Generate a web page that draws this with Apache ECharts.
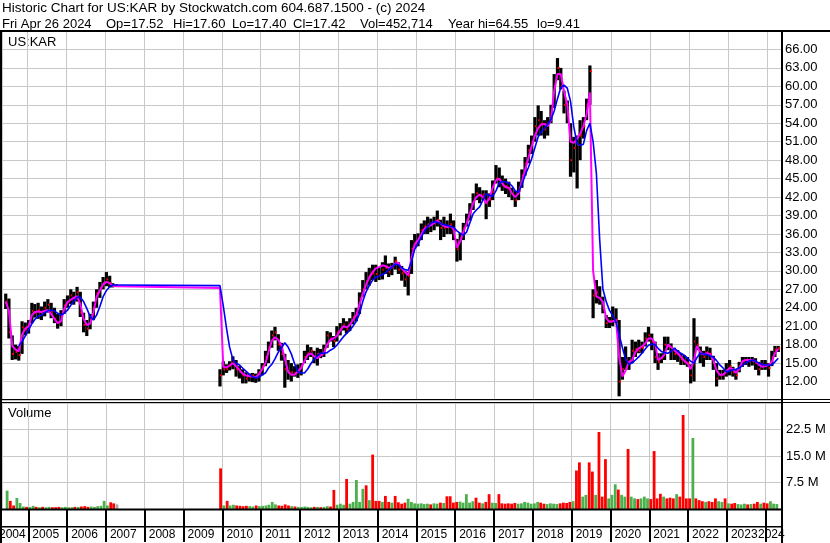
<!DOCTYPE html>
<html>
<head>
<meta charset="utf-8">
<title>US:KAR historic chart</title>
<script src="https://cdn.jsdelivr.net/npm/echarts@6/dist/echarts.min.js"></script>
<style>
  html, body { margin: 0; padding: 0; background: #fff; }
  #chart { width: 830px; height: 543px; }
</style>
</head>
<body>
<div id="chart"></div>
<script>
// monthly bars: close / high / low, the two moving averages, volume (millions)
// first run (ADESA) Jun 2004 - Apr 2007
const startA = [2004, 6];
const closeA = [
  25.0, 20.0, 16.5, 16.8, 16.3, 20.8, 20.5,
  21.0, 23.5, 23.2, 23.6, 23.0, 24.0, 24.5, 23.4, 22.2, 21.6, 22.6, 24.4,
  25.0, 26.0, 25.5, 26.5, 23.2, 21.2, 20.6, 22.0, 24.0, 26.4, 27.2, 28.0,
  28.6, 28.0, 27.6, 27.6
];
const highA = [
  26.3, 25.5, 19.5, 18.0, 17.8, 21.8, 21.6,
  22.0, 24.8, 24.6, 24.8, 24.2, 25.0, 25.4, 24.8, 24.0, 23.0, 23.6, 25.4,
  26.0, 27.0, 26.6, 27.4, 26.6, 23.2, 22.0, 23.0, 25.0, 27.0, 28.2, 29.0,
  29.8, 29.2, 28.0, 27.8
];
const lowA = [
  23.8, 19.0, 15.5, 15.6, 15.4, 16.5, 19.5,
  19.8, 21.5, 22.4, 22.2, 22.0, 22.6, 23.2, 22.3, 21.5, 20.6, 21.0, 23.0,
  24.0, 24.6, 24.5, 25.0, 22.5, 20.0, 19.4, 20.5, 22.0, 24.0, 25.6, 27.0,
  27.5, 27.3, 27.3, 27.4
];
const pinkA = [
  25.0, 23.5, 17.8, 17.2, 16.9, 19.6, 20.6,
  21.0, 22.8, 23.3, 23.4, 23.3, 23.5, 23.6, 23.0, 22.2, 21.5, 21.8, 23.8,
  24.9, 25.3, 25.6, 25.9, 24.6, 22.2, 21.2, 21.4, 23.2, 25.8, 26.8, 27.8,
  28.2, 28.0, 27.6, 27.5
];
const blueA = [
  null, null, null, null, 17.8, 18.5, 19.4,
  20.4, 21.4, 22.1, 22.6, 22.8, 23.2, 23.5, 23.6, 23.5, 23.1, 22.8, 23.1,
  23.6, 24.4, 25.0, 25.7, 25.7, 25.0, 23.9, 22.6, 22.0, 22.8, 24.2, 25.8,
  26.8, 27.4, 27.7, 27.7
];
const volA = [
  5.2, 2.3, 1.0, 3.1, 1.7, 0.7, 0.6,
  0.6, 0.9, 0.6, 0.5, 0.6, 0.5, 0.6, 0.5, 0.5, 0.6, 0.5, 0.6,
  0.5, 0.5, 0.6, 0.6, 0.7, 0.8, 0.6, 0.7, 0.6, 0.8, 0.9, 2.3,
  1.0, 1.9, 1.6, 1.3
];
// g = up (green), r = down (red), n = unchanged (grey)
const dirA = 'grrgggr' + 'ggrgrggrrrgg' + 'ggrgrrrggggg' + 'grrn';

// second run (KAR) Dec 2009 - Apr 2024
const startB = [2009, 12];
const closeB = [
  13.0,
  14.0, 14.0, 14.6, 15.4, 14.0, 13.6, 13.0, 12.5, 12.8, 13.0, 12.7, 13.5,
  14.5, 16.0, 17.6, 19.5, 20.0, 18.0, 16.5, 14.0, 13.5, 13.5, 13.4, 13.6,
  14.6, 16.0, 16.6, 17.0, 16.0, 16.5, 16.5, 17.3, 19.5, 19.0, 18.6, 20.0,
  20.5, 21.3, 20.5, 21.5, 22.5, 23.0, 25.5, 27.0, 28.3, 29.2, 29.6, 29.5,
  29.2, 30.2, 30.5, 29.8, 30.6, 31.6, 30.2, 29.6, 28.6, 29.2, 33.6, 34.6,
  35.2, 36.6, 37.2, 37.6, 37.5, 37.8, 38.3, 37.0, 37.0, 37.1, 37.6, 36.5,
  33.5, 35.2, 37.0, 38.2, 39.6, 41.2, 42.6, 42.2, 42.4, 41.0, 41.6, 42.8,
  45.0, 44.8, 44.0, 43.8, 43.4, 42.5, 41.5, 43.0, 45.5, 47.5, 49.6, 51.0,
  53.5, 54.5, 54.0, 53.0, 54.0, 56.0, 60.0, 63.0, 60.0, 57.0, 55.5, 48.0,
  50.0, 50.5, 52.0, 53.5, 57.0, 62.5, 26.0, 26.5, 25.5, 24.0, 21.5, 21.8,
  22.5, 22.0, 12.0, 14.0, 15.5, 15.0, 17.0, 17.3, 17.0, 17.5, 19.0, 19.5,
  18.5, 16.0, 15.2, 15.8, 18.0, 17.8, 17.0, 16.5, 16.4, 15.6, 15.2, 15.0,
  13.0, 18.5, 18.0, 16.5, 16.0, 16.8, 16.5, 15.0, 12.5, 13.0, 13.2, 13.8,
  14.5, 13.5, 13.0, 14.5, 15.3, 15.5, 15.3, 15.4, 15.0, 14.0, 14.8, 14.7,
  14.2, 16.0, 17.2, 17.42
];
const highB = [
  14.0,
  15.3, 14.8, 15.3, 16.1, 15.5, 14.5, 14.0, 13.5, 13.3, 13.4, 13.3, 14.0,
  15.0, 17.0, 18.5, 20.3, 20.9, 19.7, 18.3, 16.5, 15.5, 15.0, 14.5, 14.8,
  15.0, 17.0, 18.0, 17.6, 17.0, 17.5, 17.3, 18.0, 20.2, 20.0, 19.4, 21.0,
  21.5, 22.3, 21.8, 22.3, 23.3, 24.0, 26.5, 28.5, 29.8, 30.5, 31.0, 31.0,
  30.6, 31.4, 32.5, 31.2, 31.3, 32.3, 31.4, 30.8, 30.0, 29.8, 35.0, 36.0,
  36.1, 37.7, 38.2, 38.8, 38.5, 38.8, 39.8, 38.3, 38.8, 38.2, 39.3, 38.2,
  35.2, 36.2, 37.8, 39.3, 41.0, 42.6, 44.2, 43.6, 43.1, 43.1, 42.6, 44.7,
  47.2, 46.8, 45.5, 45.0, 44.5, 43.5, 43.0, 44.5, 46.5, 48.5, 50.5, 52.0,
  55.0, 56.9, 56.0, 54.5, 55.0, 57.0, 62.0, 64.6, 63.0, 59.3, 57.7, 54.0,
  51.8, 52.0, 54.5, 55.0, 58.0, 63.4, 27.0, 28.5, 27.5, 25.8, 22.8, 22.5,
  24.2, 23.9, 22.0, 16.0, 17.7, 16.0, 18.8, 18.5, 18.8, 18.5, 20.0, 20.9,
  19.8, 18.5, 16.6, 16.6, 19.3, 19.3, 18.2, 17.5, 17.1, 16.6, 16.3, 16.0,
  14.8, 22.3, 19.3, 17.7, 17.0, 17.7, 17.5, 16.2, 15.0, 13.9, 13.9, 15.0,
  15.5, 14.4, 14.0, 15.2, 16.0, 16.0, 16.0, 16.0, 15.8, 15.2, 15.5, 15.5,
  15.0, 17.0, 17.8, 17.8
];
const lowB = [
  11.2,
  13.0, 13.4, 13.8, 14.0, 12.8, 12.5, 11.7, 11.7, 12.0, 11.9, 11.8, 12.0,
  13.0, 14.5, 15.0, 17.5, 18.7, 17.0, 15.4, 11.0, 12.3, 12.0, 12.8, 12.6,
  13.0, 15.0, 15.5, 16.0, 15.0, 14.6, 15.8, 16.0, 17.5, 18.5, 17.6, 18.5,
  19.5, 20.3, 19.8, 20.2, 21.3, 21.8, 23.0, 25.8, 27.0, 27.6, 28.5, 28.2,
  28.5, 28.6, 29.5, 29.0, 29.3, 30.2, 29.5, 28.4, 27.4, 26.0, 29.5, 33.8,
  34.0, 35.0, 36.0, 36.0, 36.3, 36.6, 37.2, 35.0, 35.5, 36.0, 36.0, 35.0,
  31.5, 31.7, 35.0, 37.2, 38.2, 39.9, 41.5, 41.0, 41.5, 38.4, 40.4, 41.5,
  44.2, 43.6, 43.0, 42.5, 42.0, 41.5, 40.4, 41.5, 43.5, 45.5, 47.5, 49.0,
  51.0, 52.0, 52.0, 51.5, 52.0, 54.0, 56.5, 61.0, 59.5, 55.6, 54.0, 45.3,
  46.0, 43.4, 48.0, 51.5, 54.5, 57.0, 22.3, 24.7, 24.5, 23.1, 20.7, 20.7,
  21.0, 21.5, 9.6, 12.3, 13.9, 13.9, 15.0, 16.0, 16.6, 16.6, 17.7, 18.5,
  17.1, 15.0, 13.9, 15.0, 15.5, 17.1, 15.5, 15.5, 15.2, 14.7, 14.7, 14.4,
  11.7, 12.0, 17.1, 15.0, 14.4, 15.5, 15.5, 13.9, 11.2, 12.3, 12.3, 12.8,
  13.0, 12.8, 12.3, 13.5, 14.4, 14.7, 14.4, 14.6, 13.9, 13.0, 13.9, 13.9,
  12.8, 14.5, 16.0, 16.8
];
const pinkB = [
  27.2,
  14.4, 14.3, 14.6, 15.0, 14.5, 13.9, 13.3, 13.0, 12.9, 12.8, 12.7, 13.2,
  14.0, 15.0, 16.8, 18.6, 19.2, 18.8, 17.8, 15.8, 13.6, 13.1, 13.1, 13.6,
  14.2, 15.3, 16.3, 16.6, 16.1, 15.8, 16.2, 16.6, 18.0, 18.8, 19.0, 19.4,
  20.3, 21.0, 20.8, 21.2, 22.0, 22.8, 24.5, 26.2, 27.8, 28.9, 29.8, 30.4,
  30.6, 30.9, 30.8, 30.5, 30.6, 31.2, 31.3, 30.4, 29.8, 29.3, 32.0, 34.3,
  35.0, 35.9, 36.8, 37.2, 37.4, 37.8, 38.2, 37.7, 37.3, 37.1, 37.3, 36.7,
  33.8, 34.8, 36.3, 37.7, 39.3, 41.0, 42.0, 42.4, 42.0, 41.0, 41.8, 43.5,
  44.7, 45.0, 44.2, 43.6, 43.5, 42.6, 42.0, 42.6, 44.5, 46.4, 48.3, 50.2,
  52.0, 53.2, 53.8, 53.9, 53.5, 54.5, 59.3, 62.0, 62.0, 59.2, 57.0, 51.0,
  50.8, 51.5, 52.3, 53.5, 55.5, 59.0, 30.0, 25.8, 25.6, 24.9, 22.3, 21.7,
  21.8, 22.0, 16.0, 12.8, 13.8, 15.2, 15.5, 16.8, 17.4, 17.7, 18.2, 19.0,
  19.0, 18.2, 15.5, 15.8, 16.4, 18.0, 17.6, 17.1, 16.6, 16.0, 15.4, 15.0,
  14.0, 15.5, 17.8, 16.8, 16.4, 16.6, 16.5, 15.5, 13.8, 13.1, 13.1, 13.6,
  14.2, 14.0, 13.4, 14.0, 15.3, 15.5, 15.5, 15.5, 15.3, 14.8, 14.4, 14.5,
  14.7, 15.2, 16.6, 17.3
];
const blueB = [
  27.6,
  24.3, 20.6, 17.6, 15.6, 15.0, 14.7, 14.2, 13.7, 13.2, 12.8, 12.6, 12.7,
  13.1, 13.4, 14.2, 14.8, 15.7, 16.8, 17.5, 18.3, 17.6, 16.5, 14.9, 13.6,
  13.4, 13.4, 14.0, 14.9, 15.6, 16.2, 16.6, 16.6, 16.7, 17.1, 17.4, 17.9,
  18.6, 19.3, 19.8, 20.3, 21.0, 21.8, 23.0, 25.0, 26.6, 27.6, 28.5, 29.0,
  29.1, 29.4, 29.6, 30.2, 30.6, 31.1, 31.0, 30.5, 30.2, 30.1, 31.5, 33.5,
  34.4, 35.5, 36.4, 37.2, 37.7, 38.0, 37.9, 37.7, 37.5, 37.4, 37.2, 37.1,
  36.5, 36.1, 35.8, 36.3, 37.8, 39.3, 39.9, 40.4, 41.5, 42.5, 42.3, 42.1,
  43.0, 44.3, 44.5, 44.5, 44.3, 43.8, 43.0, 42.8, 44.0, 45.5, 46.8, 48.2,
  50.0, 51.8, 52.6, 53.2, 53.8, 54.6, 56.0, 58.0, 59.8, 60.2, 59.7, 57.6,
  53.4, 50.7, 50.4, 50.6, 52.8, 54.0, 51.0, 45.8, 35.0, 27.0, 25.0, 23.6,
  22.7, 21.7, 19.6, 17.5, 15.6, 14.8, 15.0, 15.5, 16.0, 16.6, 17.3, 17.9,
  18.1, 18.0, 17.4, 16.9, 16.7, 16.6, 16.9, 17.4, 17.0, 16.6, 16.3, 15.8,
  15.3, 15.0, 15.9, 16.6, 16.5, 16.4, 16.2, 16.0, 15.4, 14.7, 14.2, 13.6,
  13.7, 13.9, 14.0, 14.2, 14.6, 15.0, 15.3, 15.5, 15.3, 15.0, 14.8, 14.7,
  14.7, 14.7, 15.2, 15.8
];
const volB = [
  11.5,
  1.0, 2.3, 1.0, 1.2, 1.0, 0.9, 0.8, 0.9, 0.8, 0.7, 1.0, 0.8,
  0.9, 1.0, 1.2, 2.0, 1.3, 1.0, 0.9, 1.3, 1.0, 0.8, 0.7, 0.6,
  0.6, 0.7, 0.6, 0.5, 0.6, 0.6, 0.5, 0.6, 0.8, 0.7, 5.4, 1.2,
  1.5, 1.2, 8.5, 1.5, 2.0, 8.2, 2.0, 5.7, 6.7, 2.5, 15.4, 2.3,
  2.3, 2.0, 3.7, 2.0, 1.8, 3.7, 1.9, 1.5, 1.8, 2.9, 2.0, 1.6,
  1.5, 1.6, 1.4, 1.5, 1.3, 1.6, 1.5, 1.8, 1.7, 3.6, 3.6, 1.8,
  2.0, 2.1, 1.8, 4.2, 1.8, 2.2, 3.2, 1.8, 1.6, 2.0, 4.2, 1.8,
  1.7, 4.2, 1.6, 1.5, 1.6, 1.5, 1.7, 1.5, 1.6, 2.0, 1.8, 1.5,
  1.6, 2.0, 1.8, 1.5, 1.4, 1.6, 1.5, 1.4, 1.6, 1.8, 1.7, 2.0,
  2.2, 10.9, 13.2, 3.5, 4.0, 13.2, 10.6, 4.0, 21.8, 3.5, 14.1, 3.0,
  4.0, 7.0, 5.5, 4.0, 3.5, 17.0, 3.5, 3.0, 2.8, 3.0, 3.5, 3.0,
  2.8, 16.4, 3.0, 4.3, 3.5, 3.0, 3.2, 3.0, 4.2, 3.5, 26.6, 3.0,
  3.0, 20.1, 3.0, 2.5, 2.2, 2.0, 2.2, 2.0, 3.0, 2.2, 2.0, 3.0,
  1.6, 1.5, 1.7, 1.4, 1.3, 1.5, 1.3, 1.4, 1.5, 2.0, 1.5, 1.8,
  1.6, 2.2, 1.5, 1.4
];
const dirB = 'r' +
  'grggrrrrggrg' + 'gggggrrrrgrg' + 'ggggrgrggrrg' + 'ggrgggggrgrr' +
  'rgrrgrrrrggg' + 'ggggrggrgrrr' + 'rgggggrrgrrg' + 'grrrrrrggggg' +
  'ggrrggggrrrr' + 'grrggrrgrrrg' + 'ggrggrggrggg' + 'rrrrgrrrgrrr' +
  'rgrrrgrrrggr' + 'grrgggrgrrgr' + 'rggg';

// axis labels
const priceTicks = [12, 15, 18, 21, 24, 27, 30, 33, 36, 39, 42, 45, 48, 51, 54, 57, 60, 63, 66];
const volTicks = [7.5, 15, 22.5];
const headLine = 'Historic Chart for US:KAR by Stockwatch.com 604.687.1500 - (c) 2024';
const quoteParts = [
  ['Fri Apr 26 2024', 2], ['Op=17.52', 106], ['Hi=17.60', 173], ['Lo=17.40', 232],
  ['Cl=17.42', 293], ['Vol=452,714', 360], ['Year hi=64.55', 448], ['lo=9.41', 537]
];

const FONT = '"Liberation Sans", Arial, sans-serif';
const DAY = 86400000;

function monthTimes(start, n) {
  const out = [];
  for (let i = 0; i < n; i++) out.push(Date.UTC(start[0], start[1] - 1 + i, 15));
  return out;
}

const times = monthTimes(startA, closeA.length).concat(monthTimes(startB, closeB.length));
const closes = closeA.concat(closeB);
const highs = highA.concat(highB);
const lows = lowA.concat(lowB);
const pinks = pinkA.concat(pinkB);
const blues = blueA.concat(blueB);
const vols = volA.concat(volB);
const dirs = dirA + dirB;
const volColor = { g: '#4cb04c', r: '#ff0000', n: '#a8a8a8' };

const ohlcData = times.map((t, i) => [t, closes[i], lows[i], highs[i]]);
const pinkData = times.map((t, i) => [t, pinks[i]]).filter(d => d[1] != null);
const blueData = times.map((t, i) => [t, blues[i]]).filter(d => d[1] != null);
const volData = times.map((t, i) => ({ value: [t, vols[i]], itemStyle: { color: volColor[dirs[i]] } }));

const xMin = Date.UTC(2004, 4, 11);
const xMax = Date.UTC(2024, 4, 11);
const gridLine = { show: true, lineStyle: { color: '#c8c8c8', width: 1 } };

const xCommon = {
  type: 'time', min: xMin, max: xMax,
  minInterval: 365 * DAY, maxInterval: 366 * DAY, splitNumber: 20,
  axisLine: { show: false },
  splitLine: gridLine
};

const chart = echarts.init(document.getElementById('chart'), null, { renderer: 'canvas' });

const texts = [
  { type: 'text', x: 2, y: 8, style: { text: headLine, font: '13.5px ' + FONT, fill: '#000', verticalAlign: 'middle' } },
  { type: 'text', x: 8, y: 42, style: { text: 'US:KAR', font: '13px ' + FONT, fill: '#000', verticalAlign: 'middle' } },
  { type: 'text', x: 8, y: 413, style: { text: 'Volume', font: '13px ' + FONT, fill: '#000', verticalAlign: 'middle' } },
  { type: 'text', x: -1, y: 535, style: { text: '2004', font: '12px ' + FONT, fill: '#000', verticalAlign: 'middle' } },
  { type: 'text', x: 758, y: 535, style: { text: '2024', font: '12px ' + FONT, fill: '#000', verticalAlign: 'middle' } }
].concat(quoteParts.map(p => ({
  type: 'text', x: p[1], y: 24, style: { text: p[0], font: '13px ' + FONT, fill: '#000', verticalAlign: 'middle' }
})));

// frame lines
const frame = [
  [0, 30, 830, 2],     // under the header
  [0, 30, 2, 513],     // left edge
  [781, 30, 2, 513],   // right edge of the plots
  [0, 399, 830, 1],    // double line between panels
  [0, 402, 830, 1],
  [0, 508.5, 781, 2],  // bottom of volume panel
  [0, 526, 781, 1.5]   // row line under the year ticks
].map(r => ({ type: 'rect', shape: { x: r[0], y: r[1], width: r[2], height: r[3] }, style: { fill: '#000' }, z: 100 }));

const option = {
  animation: false,
  useUTC: true,
  backgroundColor: '#fff',
  textStyle: { fontFamily: FONT },
  grid: [
    { left: 2, top: 31, width: 779, height: 369, outerBoundsMode: 'none' },
    { left: 2, top: 403, width: 779, height: 106, outerBoundsMode: 'none' }
  ],
  xAxis: [
    Object.assign({}, xCommon, {
      gridIndex: 0,
      axisTick: { show: false },
      axisLabel: { show: false }
    }),
    Object.assign({}, xCommon, {
      gridIndex: 1,
      axisTick: { show: true, length: 33, lineStyle: { color: '#000', width: 2 } },
      axisLabel: {
        show: true, margin: 20, fontSize: 12, color: '#000', fontFamily: FONT,
        align: 'left', padding: [0, 0, 0, 4], hideOverlap: false,
        formatter: v => {
          const y = new Date(v).getUTCFullYear();
          return y === 2024 ? '' : String(y);
        }
      }
    })
  ],
  yAxis: [
    {
      type: 'value', gridIndex: 0, position: 'right', min: 9, max: 69, interval: 3,
      axisLine: { show: false }, axisTick: { show: false },
      axisLabel: {
        margin: 4, fontSize: 13, color: '#000', fontFamily: FONT,
        formatter: v => priceTicks.includes(v) ? v.toFixed(2) : ''
      },
      splitLine: gridLine
    },
    {
      type: 'value', gridIndex: 1, position: 'right', min: 0, max: 30, interval: 7.5,
      axisLine: { show: false }, axisTick: { show: false },
      axisLabel: {
        margin: 5, fontSize: 13, color: '#000', fontFamily: FONT,
        formatter: v => volTicks.includes(v) ? v.toFixed(1) + ' M' : ''
      },
      splitLine: gridLine
    }
  ],
  series: [
    {
      name: 'Volume', type: 'bar', xAxisIndex: 1, yAxisIndex: 1,
      barWidth: 2.8, data: volData
    },
    {
      name: 'US:KAR', type: 'custom', xAxisIndex: 0, yAxisIndex: 0, clip: true, z: 2,
      encode: { x: 0, y: [1, 2, 3] },
      renderItem: (params, api) => {
        const t = api.value(0);
        const hi = api.coord([t, api.value(3)]);
        const lo = api.coord([t, api.value(2)]);
        const cl = api.coord([t, api.value(1)]);
        return {
          type: 'group',
          children: [
            { type: 'line', shape: { x1: hi[0], y1: hi[1], x2: lo[0], y2: lo[1] }, style: { stroke: '#000', lineWidth: 3.2 } },
            { type: 'line', shape: { x1: cl[0], y1: cl[1], x2: cl[0] + 2, y2: cl[1] }, style: { stroke: '#ff0000', lineWidth: 2 } }
          ]
        };
      },
      data: ohlcData
    },
    {
      name: 'short avg', type: 'line', xAxisIndex: 0, yAxisIndex: 0, z: 3,
      showSymbol: false, lineStyle: { color: '#ff00ff', width: 2 }, data: pinkData
    },
    {
      name: 'long avg', type: 'line', xAxisIndex: 0, yAxisIndex: 0, z: 4,
      showSymbol: false, lineStyle: { color: '#0000ff', width: 1.6 }, data: blueData
    }
  ],
  graphic: texts.concat(frame)
};

chart.setOption(option);
</script>
</body>
</html>
